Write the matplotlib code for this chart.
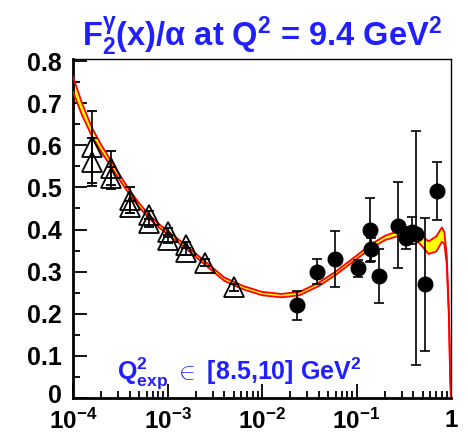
import numpy as np
import matplotlib
matplotlib.use('Agg')
import matplotlib.pyplot as plt
from matplotlib.ticker import FixedLocator, FixedFormatter, LogLocator, NullFormatter
from matplotlib.transforms import ScaledTranslation

plt.rcParams['font.family'] = ['Liberation Sans', 'DejaVu Sans']
plt.rcParams['font.weight'] = 'bold'
plt.rcParams['mathtext.fontset'] = 'custom'
plt.rcParams['mathtext.rm'] = 'Liberation Sans:bold'
plt.rcParams['mathtext.bf'] = 'Liberation Sans:bold'
plt.rcParams['mathtext.it'] = 'Liberation Sans:bold'
plt.rcParams['mathtext.default'] = 'bf'

# theory band
band_x = [1e-4, 1.25e-4, 1.6e-4, 2e-4, 2.5e-4, 3.2e-4, 4e-4, 5e-4, 6.3e-4, 8e-4,
          1e-3, 1.6e-3, 2.5e-3, 4e-3, 6.3e-3, 1e-2, 1.6e-2, 2.5e-2, 4e-2, 6e-2,
          0.1, 0.14, 0.2, 0.28, 0.38, 0.47, 0.58, 0.7, 0.8, 0.85, 0.9, 0.95, 0.98, 1.0]
band_mid = [0.745, 0.685, 0.630, 0.592, 0.558, 0.520, 0.487, 0.458, 0.432, 0.410,
            0.393, 0.357, 0.320, 0.282, 0.262, 0.248, 0.243, 0.248, 0.270, 0.296,
            0.334, 0.359, 0.380, 0.391, 0.390, 0.377, 0.357, 0.366, 0.388, 0.380, 0.33, 0.20, 0.05, 0.0]
band_half = [0.018, 0.014, 0.010, 0.008, 0.007, 0.006, 0.005, 0.005, 0.004, 0.004,
             0.004, 0.004, 0.004, 0.004, 0.004, 0.004, 0.004, 0.004, 0.004, 0.004,
             0.004, 0.005, 0.005, 0.006, 0.008, 0.011, 0.015, 0.018, 0.017, 0.014, 0.010, 0.006, 0.003, 0.0]

# open triangles (low x data)
tri_x = [1.58e-4, 1.58e-4, 2.5e-4, 2.5e-4, 4e-4, 4e-4, 6.3e-4, 6.3e-4,
         1e-3, 1e-3, 1.58e-3, 1.58e-3, 2.5e-3, 5e-3]
tri_y = [0.596, 0.560, 0.546, 0.522, 0.470, 0.454, 0.434, 0.415,
         0.395, 0.375, 0.363, 0.347, 0.321, 0.263]
tri_err = [0.086, 0.057, 0.040, 0.026, 0.030, 0.014, 0.010, 0.010,
           0.008, 0.008, 0.008, 0.008, 0.008, 0.008]

# filled circles (high x data)
circ_x = [0.0233, 0.0385, 0.0597, 0.1045, 0.139, 0.141, 0.173, 0.277, 0.33, 0.385, 0.43, 0.531, 0.706]
circ_y = [0.221, 0.298, 0.329, 0.308, 0.399, 0.353, 0.290, 0.408, 0.380, 0.395, 0.390, 0.270, 0.492]
circ_lo = [0.036, 0.028, 0.066, 0.020, 0.075, 0.028, 0.065, 0.100, 0.027, 0.030, 0.312, 0.158, 0.069]
circ_hi = [0.034, 0.031, 0.068, 0.020, 0.076, 0.028, 0.063, 0.105, 0.027, 0.035, 0.245, 0.157, 0.069]

fig = plt.figure(figsize=(4.68, 4.36), dpi=100)
ax = fig.add_axes([0.156, 0.0872, 0.8077, 0.7775])

lo = np.array(band_mid) - np.array(band_half)
hi = np.array(band_mid) + np.array(band_half)
ax.fill_between(band_x, lo, hi, color='#ffff00', lw=0, zorder=2)
ax.plot(band_x, lo, color='red', lw=1.3, zorder=3)
ax.plot(band_x, hi, color='red', lw=1.3, zorder=3)

ax.errorbar(tri_x, tri_y, yerr=tri_err, fmt='^', ms=14, mfc='none', mec='black', mew=1.3,
            ecolor='black', elinewidth=1.2, capsize=3.5, capthick=1.2, zorder=4)
ax.errorbar(circ_x, circ_y, yerr=[circ_lo, circ_hi], fmt='o', ms=10.5, mfc='black', mec='black',
            ecolor='black', elinewidth=1.2, capsize=3.5, capthick=1.2, zorder=5)

ax.set_xscale('log')
ax.set_xlim(1e-4, 1)
ax.set_ylim(0, 0.805)

ax.xaxis.set_major_locator(FixedLocator([1e-4, 1e-3, 1e-2, 1e-1, 1]))
ax.xaxis.set_major_formatter(FixedFormatter([r'$10^{-4}$', r'$10^{-3}$', r'$10^{-2}$', r'$10^{-1}$', '1']))
ax.xaxis.set_minor_locator(LogLocator(base=10, subs=np.arange(2, 10)))
ax.xaxis.set_minor_formatter(NullFormatter())
ax.yaxis.set_major_locator(FixedLocator(np.arange(0, 0.81, 0.1)))
ax.yaxis.set_major_formatter(FixedFormatter(['0', '0.1', '0.2', '0.3', '0.4', '0.5', '0.6', '0.7', '0.8']))
ax.yaxis.set_minor_locator(FixedLocator(np.arange(0.05, 0.8, 0.1)))

ax.tick_params(which='both', direction='in', top=False, right=False, width=1.3)
ax.tick_params(which='major', length=10)
ax.tick_params(which='minor', length=5)
ax.tick_params(axis='y', labelsize=18, pad=8)
ax.tick_params(axis='x', labelsize=17.5, pad=8)
for s in ax.spines.values():
    s.set_linewidth(1.0)
ax.spines['left'].set_linewidth(2)
ax.spines['bottom'].set_linewidth(2)

# nudge the "0" label up a little so it clears the 10^-4 label
zero = ax.yaxis.get_major_ticks()[0].label1
zero.set_transform(zero.get_transform() + ScaledTranslation(0, 3 / 72, fig.dpi_scale_trans))

ax.set_title(r'F$_2^{\gamma}$(x)/$\alpha$ at Q$^2$ = 9.4 GeV$^2$', color='#1f1fff', fontsize=23.5,
             fontweight='bold', pad=9)
ax.text(0.44, 0.075, r'Q$^2_{exp}$ $\in$ [8.5,10] GeV$^2$', transform=ax.transAxes, color='#1f1fff',
        fontsize=18, fontweight='bold', ha='center', va='center')

fig.savefig('out.png', dpi=100)
